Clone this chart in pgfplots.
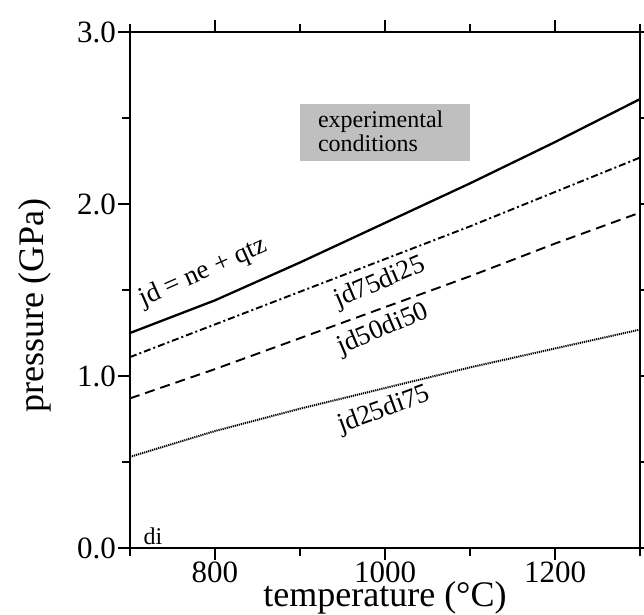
\documentclass[border=0pt]{standalone}
\usepackage{pgfplots}
\pgfplotsset{compat=1.18}
\usepackage{fontspec}
\setmainfont{Liberation Serif}

% melting curves: pressure vs temperature for jd-di compositions
\pgfplotstableread{
T     P
700   1.25
800   1.44
900   1.66
1000  1.89
1100  2.12
1200  2.36
1300  2.61
}\jdqtz
\pgfplotstableread{
T     P
700   1.11
800   1.30
900   1.49
1000  1.68
1100  1.87
1200  2.07
1300  2.27
}\jdsevfive
\pgfplotstableread{
T     P
700   0.87
800   1.04
900   1.22
1000  1.40
1100  1.58
1200  1.77
1300  1.95
}\jdfifty
\pgfplotstableread{
T     P
700   0.53
800   0.68
900   0.81
1000  0.93
1100  1.05
1200  1.16
1300  1.27
}\jdtwfive

\begin{document}
\begin{tikzpicture}
\begin{axis}[
  scale only axis,
  width=510pt, height=516pt,
  xmin=700, xmax=1300, ymin=0, ymax=3,
  xtick={800,1000,1200},
  minor xtick={700,900,1100,1300},
  ytick={0,1,2,3},
  minor ytick={0.5,1.5,2.5},
  xticklabel style={/pgf/number format/1000 sep={}},
  yticklabel style={/pgf/number format/.cd, fixed, fixed zerofill, precision=1},
  /pgf/number format/assume math mode=true,
  tick align=outside,
  major tick length=12pt,
  minor tick length=8pt,
  tick style={black, line width=1.2pt},
  axis line style={line width=1.4pt},
  ticklabel style={font=\fontsize{31}{31}\selectfont, inner sep=2pt},
  xlabel={temperature (°C)},
  ylabel={pressure (GPa)},
  every axis x label/.style={at={(axis description cs:0.5,0)}, anchor=base,
    yshift=-58pt, font=\fontsize{36}{36}\selectfont, inner sep=0pt},
  every axis y label/.style={at={(axis description cs:0,0.47)}, anchor=center,
    rotate=90, yshift=95pt, font=\fontsize{36}{36}\selectfont, inner sep=0pt},
  clip=false,
]
\fill[gray!50] (axis cs:900,2.25) rectangle (axis cs:1100,2.58);
\node[anchor=north west, align=left, inner sep=0pt, font=\fontsize{24}{24}\selectfont]
  at (axis cs:921,2.54) {experimental\\conditions};

\addplot[black, line width=2.3pt] table[x=T,y=P] {\jdqtz};
\addplot[black, line width=1.9pt, dash pattern=on 7pt off 3pt on 2pt off 3pt] table[x=T,y=P] {\jdsevfive};
\addplot[black, line width=1.9pt, dash pattern=on 10pt off 6pt] table[x=T,y=P] {\jdfifty};
\addplot[black, line width=2pt, dash pattern=on 1.2pt off 0.9pt] table[x=T,y=P] {\jdtwfive};

\node[rotate=24, font=\fontsize{27}{27}\selectfont] at (axis cs:786,1.60) {jd = ne + qtz};
\node[rotate=23, font=\fontsize{27}{27}\selectfont] at (axis cs:994,1.54) {jd75di25};
\node[rotate=23, font=\fontsize{27}{27}\selectfont] at (axis cs:998,1.27) {jd50di50};
\node[rotate=20, font=\fontsize{27}{27}\selectfont] at (axis cs:999,0.80) {jd25di75};
\node[anchor=south west, font=\fontsize{24}{24}\selectfont] at (axis cs:712,0.0) {di};
\end{axis}
\pgfresetboundingbox
\path[use as bounding box] (-130pt,-66pt) rectangle (514pt,548pt);
\end{tikzpicture}
\end{document}
